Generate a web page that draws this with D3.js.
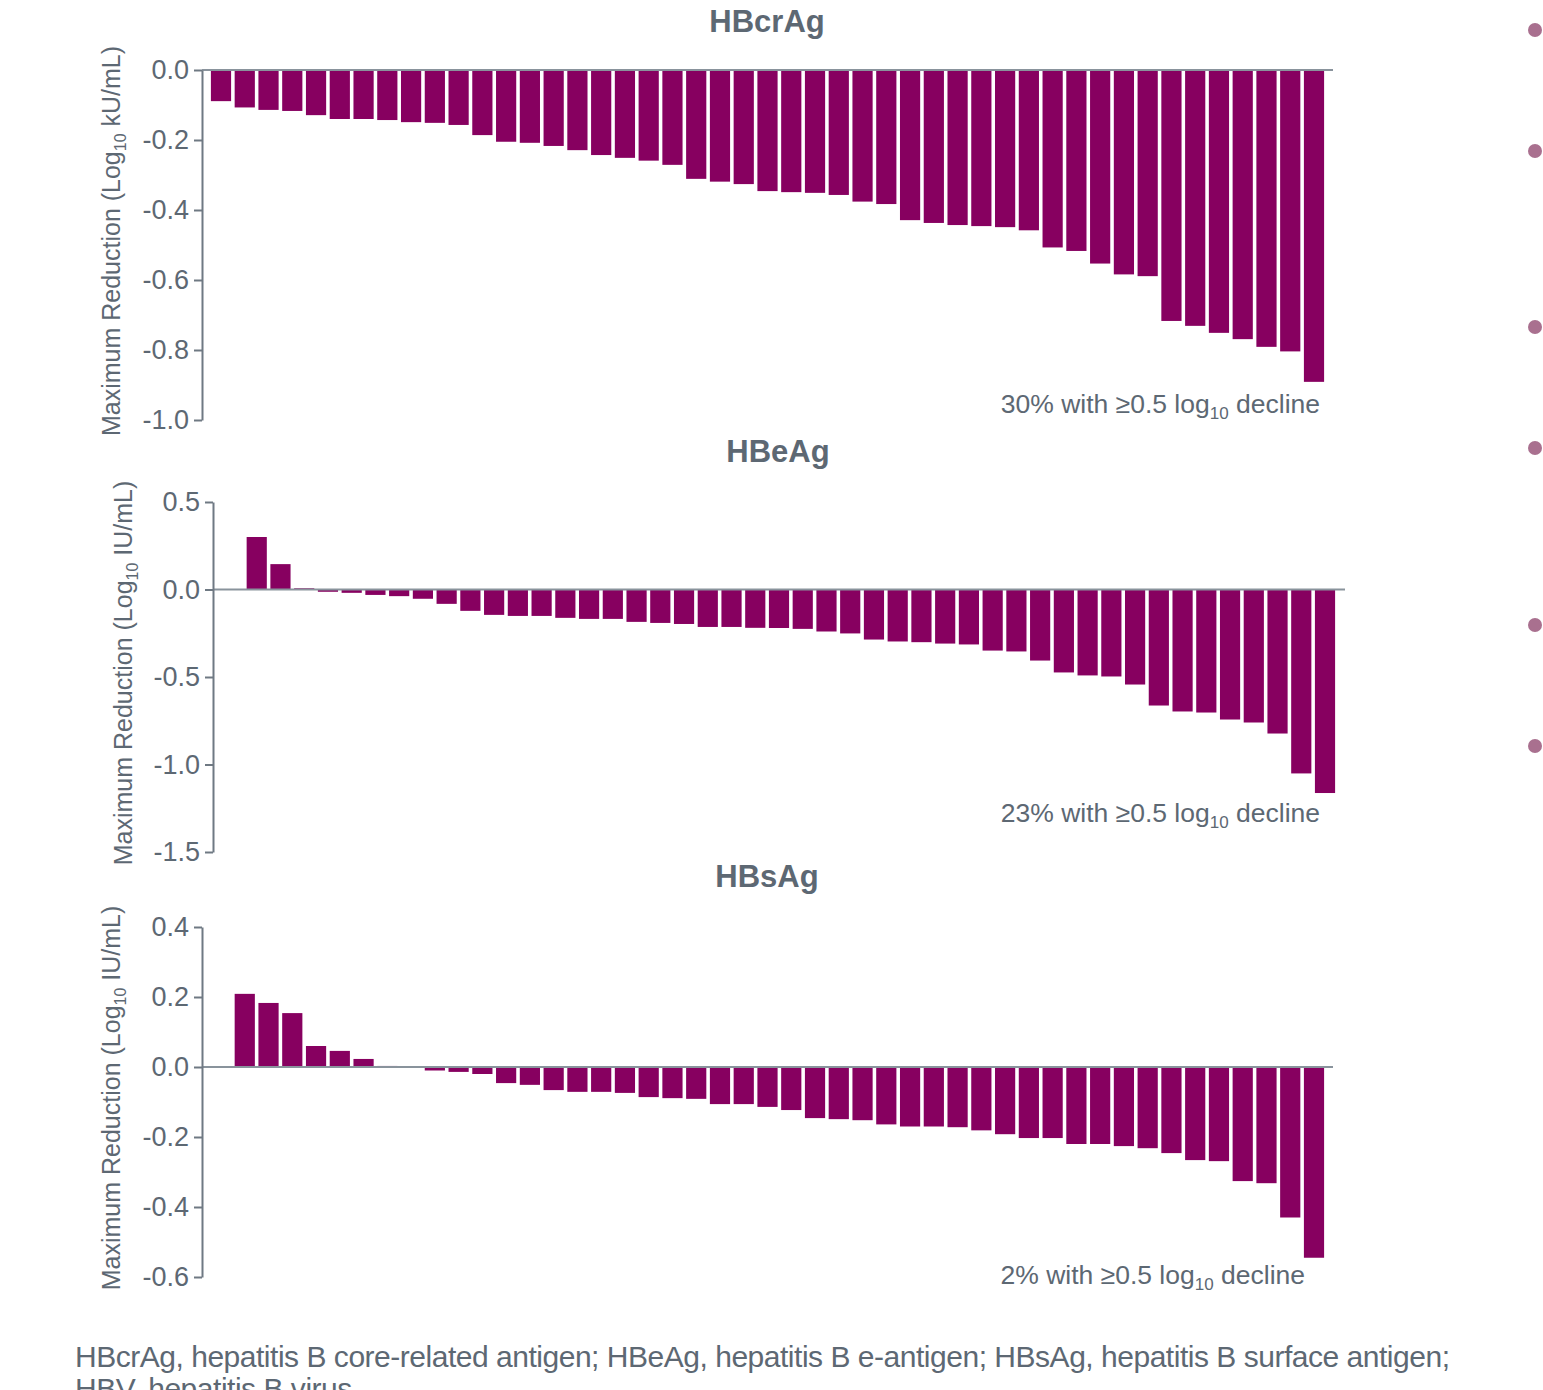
<!DOCTYPE html>
<meta charset="utf-8">
<style>
    body {
        margin: 0;
        background: #fff;
    }
    svg text {
        font-family: "Liberation Sans", Arial, sans-serif;
        fill: #5d6873;
    }
</style>

<script src="https://d3js.org/d3.v7.min.js"></script>
<div id="my_dataviz"></div>
<script>

    // values, one bar per patient (sorted)
    var hbcragValues = [-0.089, -0.107, -0.114, -0.117, -0.129, -0.140, -0.140, -0.143, -0.149, -0.151,
        -0.157, -0.186, -0.205, -0.208, -0.217, -0.229, -0.243, -0.251, -0.259, -0.271,
        -0.311, -0.319, -0.326, -0.346, -0.349, -0.351, -0.357, -0.376, -0.383, -0.429,
        -0.437, -0.443, -0.446, -0.449, -0.458, -0.507, -0.517, -0.553, -0.584, -0.589,
        -0.717, -0.731, -0.751, -0.769, -0.791, -0.804, -0.891];

    var hbeagValues = [0, 0.300, 0.145, 0.007, -0.013, -0.019, -0.031, -0.038, -0.053, -0.082,
        -0.122, -0.145, -0.151, -0.151, -0.162, -0.168, -0.168, -0.185, -0.191, -0.197,
        -0.214, -0.214, -0.219, -0.220, -0.225, -0.240, -0.251, -0.286, -0.297, -0.301,
        -0.309, -0.314, -0.349, -0.354, -0.406, -0.474, -0.491, -0.497, -0.543, -0.663,
        -0.697, -0.703, -0.743, -0.760, -0.823, -1.051, -1.163];

    var hbsagValues = [0, 0.209, 0.183, 0.154, 0.060, 0.046, 0.023, 0.003, 0, -0.010,
        -0.014, -0.020, -0.046, -0.051, -0.066, -0.071, -0.071, -0.074, -0.086, -0.089,
        -0.091, -0.106, -0.106, -0.114, -0.123, -0.146, -0.149, -0.152, -0.164, -0.170,
        -0.170, -0.172, -0.181, -0.192, -0.203, -0.203, -0.220, -0.220, -0.226, -0.232,
        -0.246, -0.266, -0.269, -0.326, -0.332, -0.430, -0.545];

    var hbcragTicks = [0, -0.2, -0.4, -0.6, -0.8, -1.0];
    var hbeagTicks = [0.5, 0, -0.5, -1.0, -1.5];
    var hbsagTicks = [0.4, 0.2, 0, -0.2, -0.4, -0.6];

    var panelTitles = ["HBcrAg", "HBeAg", "HBsAg"];
    var axisUnits = [" kU/mL)", " IU/mL)", " IU/mL)"];
    var declineShares = ["30%", "23%", "2%"];

    var footnoteLines = [
        "HBcrAg, hepatitis B core-related antigen; HBeAg, hepatitis B e-antigen; HBsAg, hepatitis B surface antigen;",
        "HBV, hepatitis B virus"
    ];

    var barColor = "#870060";
    var axisColor = "#6f7983";

    var svg = d3.select("#my_dataviz")
        .append("svg")
        .attr("width", 1543)
        .attr("height", 1390);

    // layout of the three stacked panels
    var panels = [
        {title: panelTitles[0], values: hbcragValues, ticks: hbcragTicks, unit: axisUnits[0], share: declineShares[0],
            axisX: 202, lineEnd: 1333, band: [209, 1326], top: 70, bottom: 420,
            titleX: 767, titleY: 32, labelX: 120, noteX: 1320, noteY: 413},
        {title: panelTitles[1], values: hbeagValues, ticks: hbeagTicks, unit: axisUnits[1], share: declineShares[1],
            axisX: 213, lineEnd: 1345, band: [221, 1337], top: 502, bottom: 852,
            titleX: 778, titleY: 462, labelX: 132, noteX: 1320, noteY: 822},
        {title: panelTitles[2], values: hbsagValues, ticks: hbsagTicks, unit: axisUnits[2], share: declineShares[2],
            axisX: 202, lineEnd: 1333, band: [209, 1326], top: 927, bottom: 1277,
            titleX: 767, titleY: 887, labelX: 120, noteX: 1305, noteY: 1284}
    ];

    panels.forEach(function (p) {

        var x = d3.scaleBand()
            .domain(d3.range(p.values.length))
            .range(p.band)
            .paddingInner(0.15)
            .paddingOuter(0.08);

        var y = d3.scaleLinear()
            .domain(d3.extent(p.ticks))
            .range([p.bottom, p.top]);

        var g = svg.append("g");

        // bars
        g.selectAll("rect.bar")
            .data(p.values)
            .enter()
            .append("rect")
            .attr("class", "bar")
            .attr("x", function (d, i) { return x(i); })
            .attr("width", x.bandwidth())
            .attr("y", function (d) { return y(Math.max(0, d)); })
            .attr("height", function (d) { return Math.abs(y(d) - y(0)); })
            .attr("fill", barColor);

        // zero line
        g.append("line")
            .attr("x1", p.axisX)
            .attr("x2", p.lineEnd)
            .attr("y1", y(0))
            .attr("y2", y(0))
            .attr("stroke", "#89939c")
            .attr("stroke-width", 2);

        // y axis
        var axis = g.append("g")
            .attr("transform", "translate(" + p.axisX + ",0)")
            .call(d3.axisLeft(y)
                .tickValues(p.ticks)
                .tickSize(8)
                .tickSizeOuter(0)
                .tickPadding(5)
                .tickFormat(function (d) { return d.toFixed(1); }));

        axis.select(".domain").attr("stroke", axisColor).attr("stroke-width", 2);
        axis.selectAll(".tick line").attr("stroke", axisColor).attr("stroke-width", 2);
        axis.selectAll(".tick text")
            .attr("fill", "#5d6873")
            .style("font-size", "27px");

        // panel title
        g.append("text")
            .attr("x", p.titleX)
            .attr("y", p.titleY)
            .attr("text-anchor", "middle")
            .style("font-size", "31px")
            .style("font-weight", "bold")
            .text(p.title);

        // rotated axis label with subscript
        var label = g.append("text")
            .attr("transform", "translate(" + p.labelX + "," + ((p.top + p.bottom) / 2 - 4) + ") rotate(-90)")
            .attr("text-anchor", "middle")
            .style("font-size", "25px");
        label.append("tspan").text("Maximum Reduction (Log");
        label.append("tspan").attr("dy", 6).style("font-size", "16px").text("10");
        label.append("tspan").attr("dy", -6).text(p.unit);

        // decline note
        var note = g.append("text")
            .attr("x", p.noteX)
            .attr("y", p.noteY)
            .attr("text-anchor", "end")
            .style("font-size", "26.5px");
        note.append("tspan").text(p.share + " with \u22650.5 log");
        note.append("tspan").attr("dy", 6).style("font-size", "17px").text("10");
        note.append("tspan").attr("dy", -6).text(" decline");
    });

    // slide bullets on the right edge
    var bulletY = [30, 151, 327, 448, 625, 746];
    svg.selectAll("circle.bullet")
        .data(bulletY)
        .enter()
        .append("circle")
        .attr("class", "bullet")
        .attr("cx", 1535)
        .attr("cy", function (d) { return d; })
        .attr("r", 7)
        .attr("fill", "#a9708f");

    // footnote, tightly spaced like the slide
    var foot = svg.selectAll("text.foot")
        .data(footnoteLines)
        .enter()
        .append("text")
        .attr("class", "foot")
        .attr("x", 75)
        .attr("y", function (d, i) { return 1367 + i * 32; })
        .style("font-size", "30px")
        .text(function (d) { return d; });

    var firstLen = foot.node().getComputedTextLength();
    var spacing = (1375 - firstLen) / (footnoteLines[0].length - 1);
    foot.style("letter-spacing", spacing + "px");

</script>
